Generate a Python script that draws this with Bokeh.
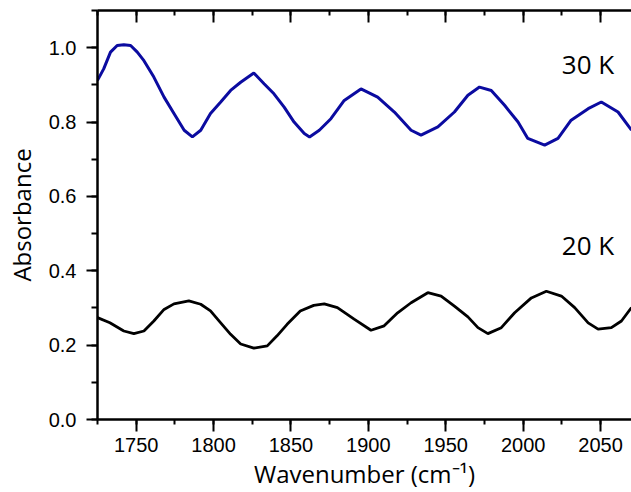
from bokeh.plotting import figure
from bokeh.models import LinearAxis, Range1d, SingleIntervalTicker, PrintfTickFormatter, Label, CustomJSTickFormatter
from bokeh.embed import file_html
from bokeh.resources import INLINE

# 30 K spectrum (blue)
wn_30k = [1725, 1729, 1733.4, 1737.7, 1742, 1746.4, 1750.7, 1755, 1761.4, 1768,
          1774.4, 1781, 1786.3, 1791.7, 1798, 1804.6, 1811, 1817.5, 1826, 1832.6,
          1839, 1845.6, 1852, 1858.6, 1862, 1868.3, 1875.8, 1884.4, 1895.2, 1906,
          1916.8, 1927.6, 1934, 1944.9, 1955.6, 1964.3, 1971.8, 1979.4, 1988, 1996.7,
          2003, 2013.9, 2022.5, 2031, 2042, 2050.5, 2061.3, 2070]
abs_30k = [0.912, 0.943, 0.988, 1.006, 1.008, 1.006, 0.988, 0.965, 0.921, 0.867,
           0.823, 0.778, 0.760, 0.778, 0.823, 0.854, 0.885, 0.907, 0.932, 0.903,
           0.876, 0.840, 0.800, 0.769, 0.760, 0.778, 0.809, 0.858, 0.889, 0.867,
           0.827, 0.778, 0.765, 0.787, 0.827, 0.872, 0.894, 0.885, 0.845, 0.800,
           0.756, 0.738, 0.756, 0.805, 0.836, 0.854, 0.827, 0.778]

# 20 K spectrum (black)
wn_20k = [1725, 1733, 1742, 1748.5, 1755, 1761.4, 1768, 1774.4, 1784, 1791.7,
          1798, 1804.6, 1811, 1817.5, 1826, 1834.7, 1841, 1847.5, 1856, 1864.7,
          1871.5, 1880, 1890.8, 1901.7, 1910.2, 1918.9, 1927.6, 1938.4, 1947, 1955.6,
          1964.3, 1970.8, 1977.2, 1985.9, 1994.5, 2005.3, 2015, 2024.7, 2033.3, 2042,
          2048.4, 2057, 2063.5, 2070]
abs_20k = [0.274, 0.260, 0.238, 0.231, 0.238, 0.265, 0.296, 0.311, 0.319, 0.310,
           0.292, 0.260, 0.229, 0.203, 0.192, 0.198, 0.225, 0.256, 0.292, 0.307,
           0.311, 0.301, 0.270, 0.240, 0.252, 0.287, 0.314, 0.341, 0.332, 0.305,
           0.276, 0.247, 0.231, 0.247, 0.287, 0.327, 0.345, 0.332, 0.301, 0.260,
           0.243, 0.247, 0.265, 0.301]

labels = ["30 K", "20 K"]
label_x = [2025, 2025]
label_y = [0.955, 0.468]

p = figure(width=631, height=492, output_backend="svg", toolbar_location=None,
           x_range=Range1d(1725, 2070), y_range=Range1d(0, 1.1),
           min_border_left=97, min_border_right=0, min_border_top=10, min_border_bottom=73)
p.outline_line_color = None
p.xgrid.visible = False
p.ygrid.visible = False
p.background_fill_color = "white"
p.border_fill_color = "white"

p.line(wn_30k, abs_30k, line_color="#0b0ba0", line_width=3)
p.line(wn_20k, abs_20k, line_color="black", line_width=2.8)

tick_font = "Liberation Sans"
title_font = "Open Sans"

xa = p.xaxis[0]
xa.ticker = SingleIntervalTicker(interval=50, num_minor_ticks=2)
xa.axis_label = "Wavenumber (cm\u207b\u00b9)"
ya = p.yaxis[0]
ya.ticker = SingleIntervalTicker(interval=0.2, num_minor_ticks=2)
ya.formatter = PrintfTickFormatter(format="%.1f")
ya.axis_label = "Absorbance"

for ax in (xa, ya):
    ax.axis_line_width = 2.5
    ax.axis_line_color = "black"
    ax.major_tick_line_width = 2
    ax.minor_tick_line_width = 2
    ax.major_tick_in = 0
    ax.minor_tick_in = 0
    ax.major_label_text_font = tick_font
    ax.major_label_text_font_size = "20px"
    ax.major_label_text_color = "black"
    ax.axis_label_text_font = title_font
    ax.axis_label_text_font_size = "24px"
    ax.axis_label_text_font_style = "normal"
    ax.axis_label_text_color = "black"

xa.major_tick_out = 12
xa.minor_tick_out = 5
xa.major_label_standoff = 6
xa.axis_label_standoff = 2
ya.major_tick_out = 11
ya.minor_tick_out = 6
ya.major_label_standoff = 10
ya.axis_label_standoff = 8

top = LinearAxis(ticker=SingleIntervalTicker(interval=50, num_minor_ticks=2),
                 formatter=CustomJSTickFormatter(code="return ''"))
top.axis_line_width = 2.5
top.major_tick_line_width = 2
top.minor_tick_line_width = 2
top.major_tick_in = 12
top.major_tick_out = 0
top.minor_tick_in = 5
top.minor_tick_out = 0
top.major_label_standoff = 0
top.major_label_text_font_size = "10px"
p.add_layout(top, "above")

for t, lx, ly in zip(labels, label_x, label_y):
    p.add_layout(Label(x=lx, y=ly, text=t, text_font=title_font, text_font_size="26px",
                       text_color="black", text_baseline="alphabetic", text_align="left"))

open("out.html", "w").write(file_html(p, INLINE))
